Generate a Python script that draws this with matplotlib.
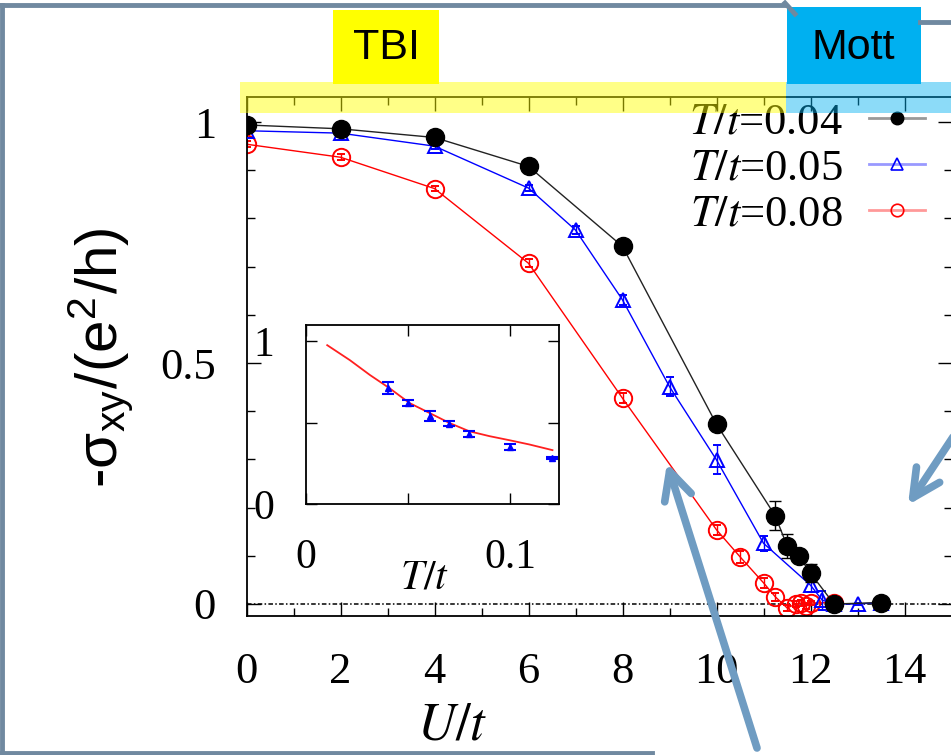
import matplotlib.pyplot as plt
from matplotlib.patches import Rectangle, FancyArrowPatch
from matplotlib.lines import Line2D
from matplotlib.ticker import MultipleLocator

# main panel: Hall conductance vs U/t
U04 = [0, 2, 4, 6, 8, 10, 11.25, 11.5, 11.75, 12, 12.5, 13.5]
S04 = [0.994, 0.986, 0.968, 0.908, 0.742, 0.373, 0.183, 0.121, 0.100, 0.064, 0.0, 0.003]
E04 = [0.005, 0.005, 0.005, 0.005, 0.008, 0.012, 0.03, 0.025, 0.01, 0.018, 0.003, 0.003]

U05 = [0, 2, 4, 6, 7, 8, 9, 10, 11, 12, 12.25, 12.5, 13, 13.5]
S05 = [0.982, 0.977, 0.950, 0.863, 0.776, 0.631, 0.451, 0.299, 0.126, 0.039, 0.008, 0.0, 0.0, 0.003]
E05 = [0.005, 0.005, 0.005, 0.006, 0.008, 0.01, 0.02, 0.03, 0.015, 0.015, 0.02, 0.003, 0.003, 0.003]

U08 = [0, 2, 4, 6, 8, 10, 10.5, 11, 11.25, 11.5, 11.7, 11.8, 11.9, 12.0, 12.5]
S08 = [0.954, 0.927, 0.862, 0.707, 0.427, 0.154, 0.098, 0.044, 0.015, -0.008, 0.0, 0.002, -0.004, 0.002, 0.003]
E08 = [0.006, 0.006, 0.006, 0.008, 0.01, 0.01, 0.012, 0.01, 0.008, 0.006, 0.006, 0.006, 0.006, 0.004, 0.003]

labels = ['$T/t$=0.04', '$T/t$=0.05', '$T/t$=0.08']

# inset: sigma vs T/t
T_line = [0.0104, 0.0215, 0.0313, 0.041, 0.0508, 0.0606, 0.0703, 0.080, 0.0899, 0.0997, 0.1094, 0.1208]
S_line = [0.976, 0.884, 0.793, 0.711, 0.620, 0.559, 0.498, 0.447, 0.417, 0.392, 0.366, 0.331]
T_pts = [0.040, 0.050, 0.0606, 0.070, 0.080, 0.100, 0.1208]
S_pts = [0.711, 0.620, 0.543, 0.492, 0.431, 0.350, 0.285]
E_pts = [0.037, 0.02, 0.03, 0.015, 0.02, 0.02, 0.006]

W, H = 951, 755
plt.rcParams['font.family'] = ['Liberation Serif', 'DejaVu Serif']
plt.rcParams['mathtext.fontset'] = 'stix'

fig = plt.figure(figsize=(W / 100, H / 100), dpi=100)

def px(x, y):
    return (x / W, 1 - y / H)

ax = fig.add_axes([246.5 / W, 1 - 616 / H, 705 / W, 519 / H])
ax.set_xlim(0, 15)
ax.set_ylim(-0.0249, 1.052)

ax.axhline(0, color='k', lw=1.1, ls=(0, (3, 1.5, 1, 1.5)), zorder=1)

ax.errorbar(U08, S08, yerr=E08, color='#ff0000', lw=1, marker='o', ms=12.5, mfc='none',
            mec='#ff0000', mew=1.4, capsize=3, elinewidth=1, zorder=2)
ax.errorbar(U05, S05, yerr=E05, color='#0000ff', lw=1, marker='^', ms=10.5, mfc='none',
            mec='#0000ff', mew=1.4, capsize=3, elinewidth=1, zorder=3)
ax.errorbar(U04, S04, yerr=E04, color='#222222', lw=1, marker='o', ms=13, mfc='k',
            mec='k', capsize=4, elinewidth=1, ecolor='k', zorder=4)

ax.xaxis.set_major_locator(MultipleLocator(2))
ax.xaxis.set_minor_locator(MultipleLocator(1))
ax.set_yticks([0, 0.5, 1])
ax.set_yticklabels(['0', '0.5', '1'])
ax.yaxis.set_minor_locator(MultipleLocator(0.1))
ax.tick_params(which='both', direction='in', top=True, right=True, width=1)
ax.tick_params(which='major', length=10)
ax.tick_params(which='minor', length=6)
ax.tick_params(axis='x', labelsize=32, pad=26)
ax.tick_params(axis='y', labelsize=32, pad=22)
for s in ax.spines.values():
    s.set_linewidth(1.3)

ax.text(0.2915, -0.212, '$U/t$', transform=ax.transAxes, ha='center', va='center', fontsize=38)
ax.text(-0.207, 0.497, r'-σ$_\mathregular{xy}$/(e$^\mathregular{2}$/h)', transform=ax.transAxes,
        ha='center', va='center', rotation=90, fontsize=42,
        family=['Liberation Sans', 'DejaVu Sans'])

handles = [
    Line2D([], [], color='#999999', lw=2, marker='o', ms=9, mfc='k', mec='k'),
    Line2D([], [], color='#9999ff', lw=2, marker='^', ms=8, mfc='none', mec='#0000ff', mew=1.2),
    Line2D([], [], color='#ff9999', lw=2, marker='o', ms=9, mfc='none', mec='#ff0000', mew=1.2),
]
ax.legend(handles, labels, loc='upper right', bbox_to_anchor=px(925, 102),
          bbox_transform=fig.transFigure, frameon=False, markerfirst=False, fontsize=32,
          handlelength=1.25, handletextpad=0.6, labelspacing=0.14, borderpad=0, borderaxespad=0)

# inset
axi = fig.add_axes([306 / W, 1 - 504 / H, 253 / W, 179 / H])
axi.set_xlim(0, 0.124)
axi.set_ylim(0, 1.1)
axi.plot(T_line, S_line, color='#ff2020', lw=1.3)
axi.errorbar(T_pts, S_pts, yerr=E_pts, color='#0000ff', ls='none', marker='^', ms=4,
             capsize=4, elinewidth=1.2, capthick=1.5)
axi.set_xticks([0, 0.05, 0.1])
axi.set_xticklabels(['0', '', '0.1'])
axi.set_yticks([0, 0.5, 1])
axi.set_yticklabels(['0', '', '1'])
axi.tick_params(direction='in', top=True, right=True, length=8, width=1, labelsize=30)
axi.tick_params(axis='x', pad=25)
axi.tick_params(axis='y', pad=23)
for s in axi.spines.values():
    s.set_linewidth(1.3)
axi.text(0.47, -0.413, '$T/t$', transform=axi.transAxes, ha='center', va='center', fontsize=30)

# slide annotations
frame = '#7089a0'
arrow_c = '#6f9cc2'
for (x0, y0), (x1, y1) in [((2, 5), (785, 5)), ((785, 3), (795, 14)), ((920, 22), (951, 22)),
                           ((2, 5), (2, 753)), ((0, 753), (652, 753))]:
    fig.add_artist(Line2D([x0 / W, x1 / W], [1 - y0 / H, 1 - y1 / H], color=frame, lw=3.5,
                          transform=fig.transFigure))

fig.add_artist(Rectangle(px(240, 113), 546 / W, 31 / H, transform=fig.transFigure,
                         facecolor='#ffff00', alpha=0.47, lw=0))
fig.add_artist(Rectangle(px(786, 113), 170 / W, 31 / H, transform=fig.transFigure,
                         facecolor='#00b0f0', alpha=0.45, lw=0))
fig.add_artist(Rectangle(px(333, 84), 106 / W, 74 / H, transform=fig.transFigure,
                         facecolor='#ffff00', lw=0))
fig.add_artist(Rectangle(px(787, 84), 134 / W, 77 / H, transform=fig.transFigure,
                         facecolor='#00b0f0', lw=0))
box_font = ['Liberation Sans', 'DejaVu Sans']
fig.text(*px(386, 48), 'TBI', ha='center', va='center', fontsize=31, family=box_font)
fig.text(*px(853, 48), 'Mott', ha='center', va='center', fontsize=31, family=box_font)

for start, tip in [((757, 748), (667, 463)), ((953, 437), (908, 505))]:
    fig.add_artist(FancyArrowPatch(px(*start), px(*tip), transform=fig.transFigure,
                                   arrowstyle='->,head_length=20,head_width=10', mutation_scale=1,
                                   color=arrow_c, lw=5.5, capstyle='round', joinstyle='round',
                                   shrinkA=0, shrinkB=0))

fig.savefig('out.png', dpi=100)
